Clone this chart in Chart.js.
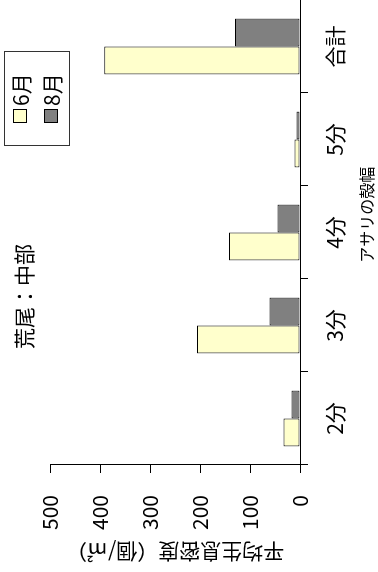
<!DOCTYPE html>
<html>
<head>
<meta charset="utf-8">
<script src="https://cdn.jsdelivr.net/npm/chart.js@4"></script>
<style>
  html, body { margin: 0; padding: 0; background: #fff; overflow: hidden; }
  /* chart is drawn landscape and turned a quarter turn to the left */
  #wrap {
    position: absolute; left: 0; top: 0;
    width: 572px; height: 378px;
    transform-origin: 0 0;
    transform: translate(0, 572px) rotate(-90deg);
  }
</style>
</head>
<body>
<div id="wrap"><canvas id="shellChart" width="572" height="378"></canvas></div>
<script>
const categories = ['2分', '3分', '4分', '5分', '合計'];
const june = [33, 206, 142, 11, 392];
const august = [17, 61, 45, 7, 130];
const seriesNames = ['6月', '8月'];
const valueTicks = [0, 100, 200, 300, 400, 500];

const FONT = '"Noto Sans CJK JP", "Noto Sans", sans-serif';

// legend box drawn inside the top-right corner
const boxLegend = {
  id: 'boxLegend',
  afterDraw(chart) {
    const ctx = chart.ctx;
    ctx.save();
    ctx.strokeStyle = '#333';
    ctx.lineWidth = 1;
    ctx.strokeRect(426.5, 4.5, 94, 65);
    ctx.font = '21px ' + FONT;
    ctx.textBaseline = 'middle';
    chart.data.datasets.forEach((ds, i) => {
      const cy = 20 + i * 31;
      ctx.fillStyle = ds.backgroundColor;
      ctx.fillRect(449, cy - 7, 14, 14);
      ctx.strokeStyle = '#000';
      ctx.strokeRect(449.5, cy - 6.5, 13, 13);
      ctx.fillStyle = '#000';
      ctx.fillText(ds.label, 466, cy + 1);
    });
    ctx.restore();
  }
};

const ctxShell = document.getElementById('shellChart').getContext('2d');

const shellChart = new Chart(ctxShell, {
  type: 'bar',
  data: {
    labels: categories,
    datasets: [{
      label: seriesNames[0],
      data: june,
      backgroundColor: '#FFFFCC',
      borderColor: '#000',
      borderWidth: 1,
      borderSkipped: false
    }, {
      label: seriesNames[1],
      data: august,
      backgroundColor: '#808080',
      borderColor: '#000',
      borderWidth: 1,
      borderSkipped: false
    }]
  },
  options: {
    responsive: false,
    animation: false,
    devicePixelRatio: 1,
    layout: { padding: 0 },
    datasets: {
      bar: { categoryPercentage: 0.6, barPercentage: 1.0 }
    },
    plugins: {
      legend: { display: false },
      tooltip: { enabled: false },
      title: {
        display: true,
        text: '荒尾：中部　',
        color: '#000',
        font: { family: FONT, size: 21, weight: 'normal' },
        padding: { top: 11, bottom: 14 }
      }
    },
    scales: {
      x: {
        offset: true,
        grid: { offset: true, drawOnChartArea: false, tickLength: 8, color: '#000' },
        border: { color: '#000' },
        ticks: { color: '#000', font: { family: FONT, size: 21 }, padding: 14, maxRotation: 0 },
        title: {
          display: true,
          text: '　　 アサリの殻幅',
          color: '#000',
          font: { family: FONT, size: 16 },
          padding: { top: 0, bottom: 1 }
        },
        afterFit: (s) => { s.height = 78; }
      },
      y: {
        min: 0,
        max: 500,
        afterBuildTicks: (s) => { s.ticks = valueTicks.map(v => ({ value: v })); },
        grid: { drawOnChartArea: false, tickLength: 8, color: '#000' },
        border: { color: '#000' },
        ticks: { color: '#000', font: { family: FONT, size: 21 }, padding: 22 },
        title: {
          display: true,
          text: '平均生息密度（個/㎡）',
          color: '#000',
          font: { family: FONT, size: 21 },
          padding: { top: 7, bottom: 0 }
        },
        afterFit: (s) => { s.width = 107; }
      }
    }
  },
  plugins: [boxLegend]
});
</script>
</body>
</html>
